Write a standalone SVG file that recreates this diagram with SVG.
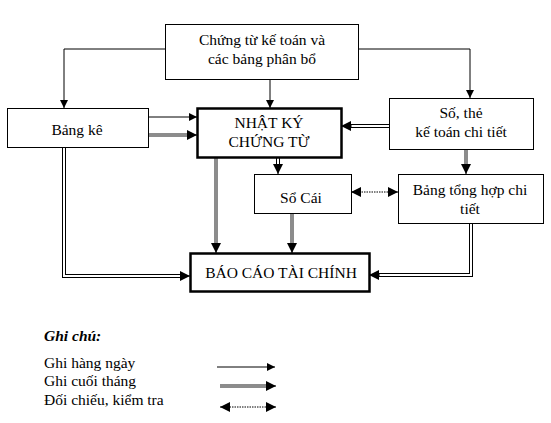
<svg xmlns="http://www.w3.org/2000/svg" width="551" height="423" viewBox="0 0 551 423">
<defs>
<marker id="ah" viewBox="0 0 8 8" refX="8" refY="4" markerWidth="8" markerHeight="8" markerUnits="userSpaceOnUse" orient="auto"><path d="M0,0 L8,4 L0,8 z" fill="#000"/></marker>
<marker id="ahb" viewBox="0 0 10 10" refX="10" refY="5" markerWidth="10" markerHeight="10" markerUnits="userSpaceOnUse" orient="auto"><path d="M0,0 L10,5 L0,10 z" fill="#000"/></marker>
</defs>
<style>
text{font-family:"Liberation Serif","Times New Roman",serif;font-size:15.5px;fill:#000}
.c{text-anchor:middle}
.box{fill:#fff;stroke:#000;stroke-width:1}
.tbox{fill:#fff;stroke:#000;stroke-width:2.5}
.thin{fill:none;stroke:#000;stroke-width:1}
.gray{fill:none;stroke:#8c8c8c;stroke-width:4}
.dbl{fill:none;stroke:#000;stroke-width:4}
.dblw{fill:none;stroke:#fff;stroke-width:2}
.dot{fill:none;stroke:#000;stroke-width:1;stroke-dasharray:1.5 1}
</style>
<rect width="551" height="423" fill="#fff"/>
<g id="connectors">
<path class="thin" d="M165,49 H64 V108" marker-end="url(#ah)"/>
<path class="thin" d="M358,49 H470 V98" marker-end="url(#ah)"/>
<path class="thin" d="M270,79 V108" marker-end="url(#ah)"/>
<path class="thin" d="M148,117 H197" marker-end="url(#ah)"/>
<path class="gray" d="M148,135 H189"/>
<path class="thin" d="M188,135 H197" marker-end="url(#ahb)"/>
<path class="dbl" d="M389,126 H350"/>
<path class="dblw" d="M389,126 H350"/>
<path class="thin" d="M352,126 H341" marker-end="url(#ahb)"/>
<path class="gray" d="M466,149 V166"/>
<path class="thin" d="M466,164 V174" marker-end="url(#ahb)"/>
<path class="dbl" d="M278,157 V166"/>
<path class="dblw" d="M278,157 V166"/>
<path class="thin" d="M278,164 V174" marker-end="url(#ahb)"/>
<path class="dot" d="M359,192 H390"/>
<path class="thin" d="M358,192 H351" marker-end="url(#ahb)"/>
<path class="thin" d="M391,192 H398" marker-end="url(#ahb)"/>
<path class="gray" d="M216,157 V245"/>
<path class="thin" d="M216,243 V253" marker-end="url(#ahb)"/>
<path class="gray" d="M292,213 V245"/>
<path class="thin" d="M292,243 V253" marker-end="url(#ahb)"/>
<path class="dbl" d="M64,148 V276 H181"/>
<path class="dblw" d="M64,148 V276 H181"/>
<path class="thin" d="M180,276 H190" marker-end="url(#ahb)"/>
<path class="dbl" d="M471,223 V275 H378"/>
<path class="dblw" d="M471,223 V275 H378"/>
<path class="thin" d="M380,275 H369" marker-end="url(#ahb)"/>
</g>
<g id="n-chungtu">
<rect class="box" x="165.5" y="24.5" width="193" height="55"/>
<text class="c" x="262" y="45">Chứng từ kế toán và</text>
<text class="c" x="262" y="64">các bảng phân bổ</text>
</g>
<g id="n-bangke">
<rect class="box" x="7.5" y="108.5" width="141" height="39"/>
<text class="c" x="77" y="135">Bảng kê</text>
</g>
<g id="n-nkct">
<rect class="tbox" x="197.5" y="108.5" width="144" height="49"/>
<text class="c" x="269" y="128">NHẬT KÝ</text>
<text class="c" x="269" y="147">CHỨNG TỪ</text>
</g>
<g id="n-sothe">
<rect class="box" x="389.5" y="98.5" width="144" height="51"/>
<text class="c" x="461" y="118">Số, thẻ</text>
<text class="c" x="461" y="137">kế toán chi tiết</text>
</g>
<g id="n-socai">
<rect class="box" x="254.5" y="174.5" width="97" height="39"/>
<text class="c" x="301" y="203">Sổ Cái</text>
</g>
<g id="n-bth">
<rect class="box" x="398.5" y="174.5" width="145" height="49"/>
<text class="c" x="470" y="195">Bảng tổng hợp chi</text>
<text class="c" x="470" y="214">tiết</text>
</g>
<g id="n-bctc">
<rect class="tbox" x="190.5" y="253.5" width="179" height="38"/>
<text class="c" x="281" y="278">BÁO CÁO TÀI CHÍNH</text>
</g>
<g id="legend">
<text x="44" y="341" font-weight="bold" font-style="italic">Ghi chú:</text>
<text x="44" y="368">Ghi hàng ngày</text>
<text x="44" y="386">Ghi cuối tháng</text>
<text x="44" y="405">Đối chiếu, kiểm tra</text>
<path class="thin" d="M217,367 H275" marker-end="url(#ah)"/>
<path class="gray" d="M220,386 H268"/>
<path class="thin" d="M266,386 H276" marker-end="url(#ahb)"/>
<path class="dot" d="M227,407 H268"/>
<path class="thin" d="M228,407 H220" marker-end="url(#ahb)"/>
<path class="thin" d="M267,407 H276" marker-end="url(#ahb)"/>
</g>
</svg>
